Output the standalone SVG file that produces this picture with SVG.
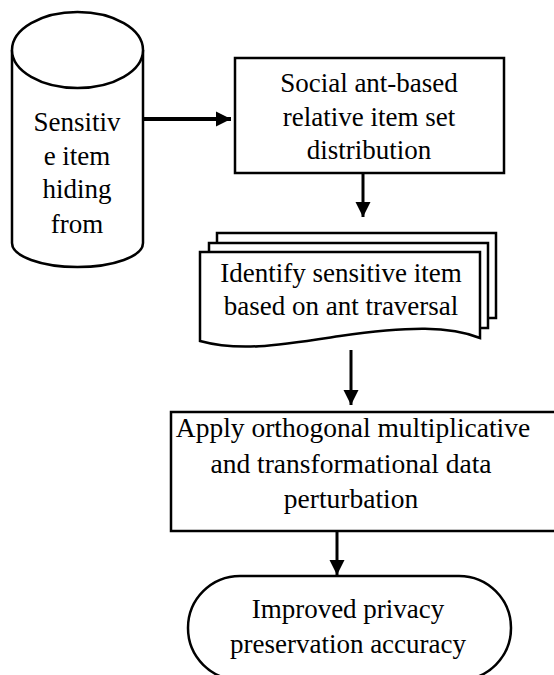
<svg xmlns="http://www.w3.org/2000/svg" width="554" height="675" viewBox="0 0 554 675">
<style>
.s{fill:#fff;stroke:#000;stroke-width:2.5}
.n{fill:none;stroke:#000;stroke-width:2.5}
.t{font-family:"Liberation Serif","Times New Roman",serif;font-size:27px;fill:#000;text-anchor:middle}
.c{fill:none;stroke:#000;stroke-width:3}
</style>
<defs>
<marker id="ah" markerUnits="userSpaceOnUse" markerWidth="16" markerHeight="16" viewBox="0 0 16 16" refX="15" refY="8" orient="auto">
<path d="M0,0.5 L15,8 L0,15.5 Z" fill="#000"/>
</marker>
</defs>
<rect width="554" height="675" fill="#fff"/>
<g id="connectors">
<line class="c" x1="144" y1="119" x2="231" y2="119" marker-end="url(#ah)" style="stroke-width:4"/>
<line class="c" x1="363" y1="174" x2="363" y2="217" marker-end="url(#ah)"/>
<line class="c" x1="351" y1="350" x2="351" y2="405" marker-end="url(#ah)"/>
<line class="c" x1="337" y1="532" x2="337" y2="575" marker-end="url(#ah)"/>
</g>
<g id="cylinder">
<path class="s" d="M12,50 V243 A65.5,24 0 0 0 143,243 V50"/>
<ellipse class="s" cx="77.5" cy="50" rx="65.5" ry="38"/>
<text class="t" x="77" y="131">Sensitiv</text>
<text class="t" x="77" y="165">e item</text>
<text class="t" x="77" y="198">hiding</text>
<text class="t" x="77" y="233">from</text>
</g>
<g id="social">
<rect class="s" x="235" y="58" width="269" height="115"/>
<text class="t" x="369" y="92">Social ant-based</text>
<text class="t" x="369" y="126">relative item set</text>
<text class="t" x="369" y="159">distribution</text>
</g>
<g id="identify">
<path class="s" d="M217,243 V233 H496 V318 H488"/>
<path class="s" d="M209,252 V243 H488 V328 H480"/>
<path class="s" d="M200,252 H480 V338 C450,326 410,326 340,336 C280,345 240,352 200,341 Z"/>
<text class="t" x="341" y="282">Identify sensitive item</text>
<text class="t" x="341" y="315">based on ant traversal</text>
</g>
<g id="apply">
<rect class="s" x="171" y="412" width="387" height="119"/>
<text class="t" x="353" y="437" style="font-size:27.5px">Apply orthogonal multiplicative</text>
<text class="t" x="351" y="473" style="font-size:27.5px">and transformational data</text>
<text class="t" x="351" y="508" style="font-size:27.5px">perturbation</text>
</g>
<g id="improved">
<rect class="s" x="188" y="576" width="323" height="104" rx="52" ry="52"/>
<text class="t" x="348" y="618">Improved privacy</text>
<text class="t" x="348" y="653">preservation accuracy</text>
</g>
</svg>
